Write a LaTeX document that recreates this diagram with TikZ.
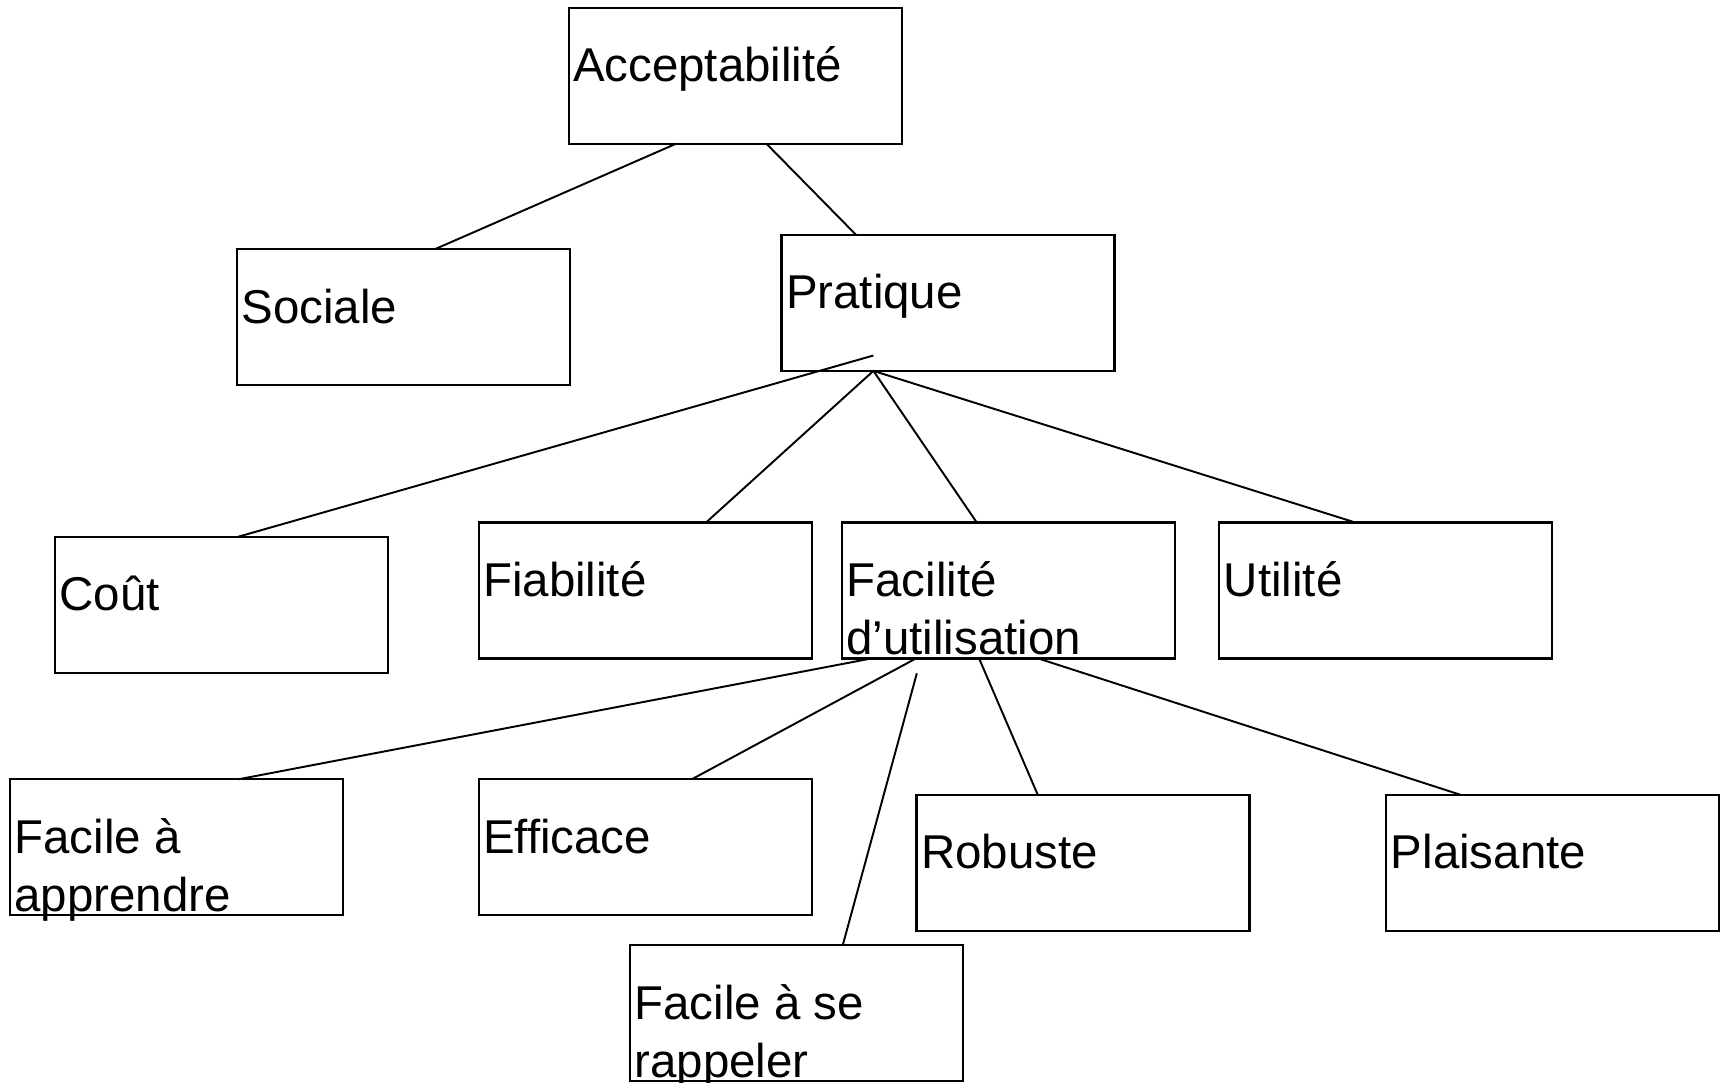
\documentclass[tikz,border=0pt]{standalone}
\usepackage{fontspec}
\setmainfont{Liberation Sans}
\usetikzlibrary{calc}
\newcommand{\etiq}[1]{\parbox[c][1.36cm][t]{3.33cm}{\raggedright\leftskip=0.045cm\rule{0pt}{0.74cm}#1}}

\begin{document}
\begin{tikzpicture}[boite/.style={draw,line width=0.6pt,inner sep=0pt,outer sep=0pt,
    anchor=north west,font=\fontsize{13.5}{16.6}\selectfont},
  lien/.style={line width=0.55pt}]
  \useasboundingbox (0,0) rectangle (17.21,-10.83);

  \node[boite] (acc) at (5.686,-0.077) {\etiq{Acceptabilité}};

  \node[boite] (soc) at (2.371,-2.492) {\etiq{Sociale}};
  \node[boite] (pra) at (7.815,-2.349) {\etiq{Pratique}};

  \node[boite] (cou) at (0.549,-5.367) {\etiq{Coût}};
  \node[boite] (fia) at (4.786,-5.225) {\etiq{Fiabilité}};
  \node[boite] (fac) at (8.419,-5.225) {\etiq{Facilité\\d’utilisation}};
  \node[boite] (uti) at (12.194,-5.225) {\etiq{Utilité}};

  \node[boite] (app) at (0.099,-7.793) {\etiq{Facile à\\apprendre}};
  \node[boite] (eff) at (4.786,-7.793) {\etiq{Efficace}};
  \node[boite] (rob) at (9.165,-7.947) {\etiq{Robuste}};
  \node[boite] (pla) at (13.863,-7.947) {\etiq{Plaisante}};
  \node[boite] (rap) at (6.300,-9.450) {\etiq{Facile à se\\rappeler}};

  % free ends inside / below the parent boxes
  \coordinate (praIn) at ($(pra.south west)!.276!(pra.south east)+(0,0.154)$);
  \coordinate (facOut) at ($(fac.south west)!.225!(fac.south east)+(0,-0.148)$);

  \draw[lien] ($(acc.south west)!.323!(acc.south east)$) -- ($(soc.north west)!.594!(soc.north east)$);
  \draw[lien] ($(acc.south west)!.594!(acc.south east)$) -- ($(pra.north west)!.224!(pra.north east)$);

  \draw[lien] (praIn) -- ($(cou.north west)!.551!(cou.north east)$);
  \draw[lien] ($(pra.south west)!.276!(pra.south east)$) -- ($(fia.north west)!.683!(fia.north east)$);
  \draw[lien] ($(pra.south west)!.276!(pra.south east)$) -- ($(fac.north west)!.405!(fac.north east)$);
  \draw[lien] ($(pra.south west)!.276!(pra.south east)$) -- ($(uti.north west)!.408!(uti.north east)$);

  \draw[lien] ($(fac.south west)!.088!(fac.south east)$) -- ($(app.north west)!.686!(app.north east)$);
  \draw[lien] ($(fac.south west)!.222!(fac.south east)$) -- ($(eff.north west)!.64!(eff.north east)$);
  \draw[lien] (facOut) -- ($(rap.north west)!.639!(rap.north east)$);
  \draw[lien] ($(fac.south west)!.412!(fac.south east)$) -- ($(rob.north west)!.364!(rob.north east)$);
  \draw[lien] ($(fac.south west)!.59!(fac.south east)$) -- ($(pla.north west)!.222!(pla.north east)$);
\end{tikzpicture}
\end{document}
